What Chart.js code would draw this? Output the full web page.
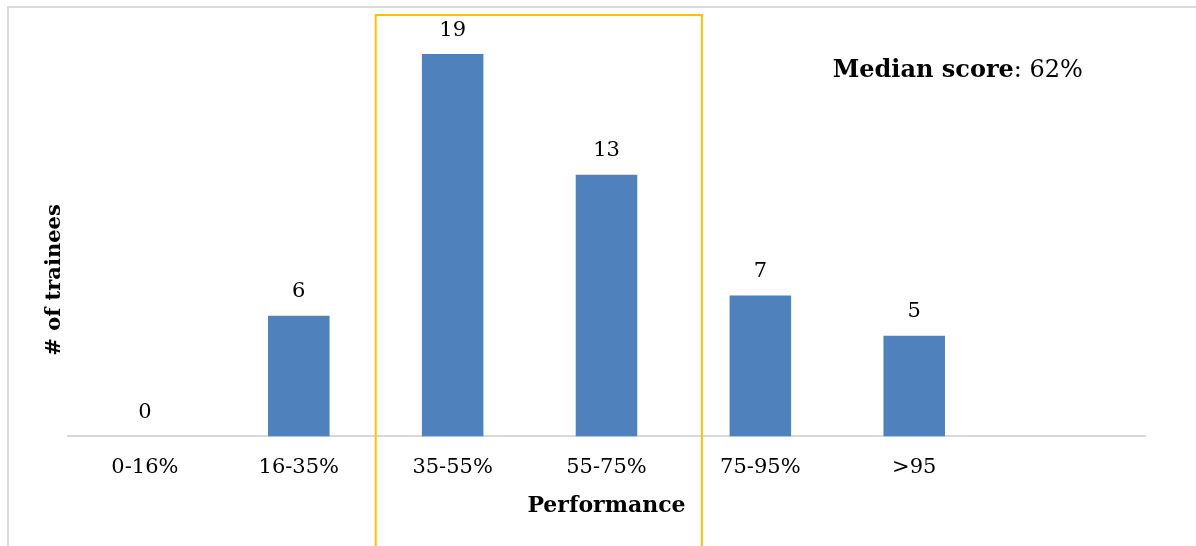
<!DOCTYPE html>
<html>
<head>
<meta charset="utf-8">
<script src="https://cdn.jsdelivr.net/npm/chart.js@4"></script>
<style>
    html, body { margin: 0; padding: 0; background: #fff; }
    #box { width: 1196px; height: 546px; }
</style>
</head>
<body>
<div id="box"><canvas id="graficoPerf"></canvas></div>
<script>
// dati
const fasce = ['0-16%', '16-35%', '35-55%', '55-75%', '75-95%', '>95', ''];
const tirocinanti = [0, 6, 19, 13, 7, 5, null];
const mediana = '62%';

const FONT = "'DejaVu Serif', serif";

// cornice grigia, riquadro giallo, etichette, titolo verticale e mediana
const decorPlugin = {
    id: 'decorPlugin',
    beforeDraw(chart) {
        const ctx = chart.ctx;
        ctx.save();
        ctx.strokeStyle = '#d9d9d9';
        ctx.lineWidth = 2;
        ctx.beginPath();
        ctx.moveTo(8, 600);
        ctx.lineTo(8, 7);
        ctx.lineTo(1300, 7);
        ctx.stroke();
        ctx.restore();
    },
    afterDatasetsDraw(chart) {
        const ctx = chart.ctx;
        const xScale = chart.scales.x;
        const yScale = chart.scales.y;
        ctx.save();

        // valori sopra le barre
        ctx.fillStyle = '#000';
        ctx.font = '21px ' + FONT;
        ctx.textAlign = 'center';
        ctx.textBaseline = 'middle';
        const meta = chart.getDatasetMeta(0);
        meta.data.forEach((bar, i) => {
            const v = tirocinanti[i];
            if (v == null) return;
            ctx.fillText(String(v), bar.x, bar.y - 24);
        });

        // riquadro giallo
        const left = xScale.getPixelForValue(1.5);
        const right = xScale.getPixelForValue(3.62);
        const top = yScale.getPixelForValue(20.95);
        ctx.strokeStyle = '#ffc000';
        ctx.lineWidth = 2;
        ctx.beginPath();
        ctx.moveTo(left, 600);
        ctx.lineTo(left, top);
        ctx.lineTo(right, top);
        ctx.lineTo(right, 600);
        ctx.stroke();

        // titolo asse y
        ctx.save();
        ctx.translate(chart.chartArea.left - 13, 280);
        ctx.rotate(-Math.PI / 2);
        ctx.font = 'bold 21px ' + FONT;
        ctx.fillText('# of trainees', 0, 0);
        ctx.restore();

        // mediana
        ctx.textAlign = 'left';
        ctx.textBaseline = 'alphabetic';
        ctx.font = 'bold 24px ' + FONT;
        const etichetta = 'Median score';
        const x0 = xScale.getPixelForValue(4.47);
        ctx.fillText(etichetta, x0, 77);
        const w = ctx.measureText(etichetta).width;
        ctx.font = '24px ' + FONT;
        ctx.fillText(': ' + mediana, x0 + w, 77);
        ctx.restore();
    }
};

const ctxPerf = document.getElementById('graficoPerf').getContext('2d');
const grafico = new Chart(ctxPerf, {
    type: 'bar',
    data: {
        labels: fasce,
        datasets: [{
            label: '# of trainees',
            data: tirocinanti,
            backgroundColor: '#4f81bd',
            borderWidth: 0,
            barPercentage: 0.4,
            categoryPercentage: 1
        }]
    },
    options: {
        responsive: true,
        maintainAspectRatio: false,
        animation: false,
        layout: {
            padding: { left: 68, right: 51, top: 34, bottom: 27 }
        },
        plugins: {
            legend: { display: false },
            tooltip: { enabled: false }
        },
        scales: {
            x: {
                grid: { display: false, drawTicks: false },
                border: { display: true, color: '#d9d9d9', width: 2 },
                ticks: {
                    color: '#000',
                    padding: 19,
                    font: { family: FONT, size: 21 }
                },
                title: {
                    display: true,
                    text: 'Performance',
                    color: '#000',
                    padding: { top: -7, bottom: 0 },
                    font: { family: FONT, size: 22, weight: 'bold' }
                }
            },
            y: {
                display: false,
                min: 0,
                max: 20
            }
        }
    },
    plugins: [decorPlugin]
});
</script>
</body>
</html>
